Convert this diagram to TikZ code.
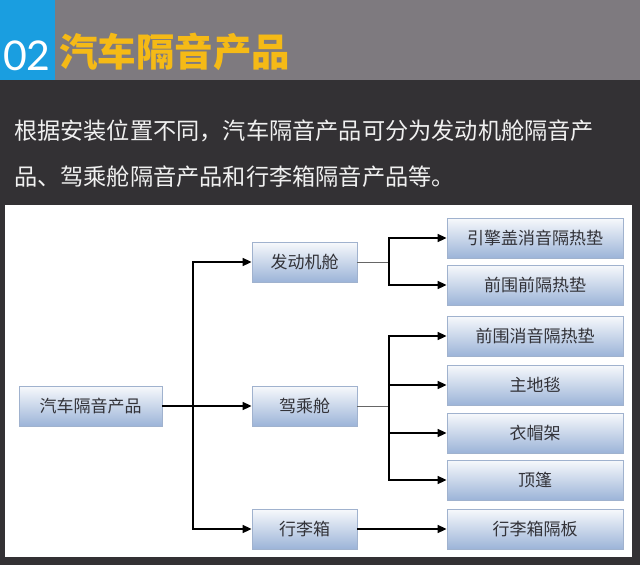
\documentclass[tikz,border=0pt]{standalone}
\usepackage{fontspec}
\setmainfont{Noto Sans CJK SC}
\newfontfamily\numfont{Lato}
\usetikzlibrary{arrows.meta}

\definecolor{headblue}{RGB}{26,158,224}
\definecolor{headgrey}{RGB}{126,122,127}
\definecolor{darkbg}{RGB}{51,49,52}
\definecolor{titleyellow}{RGB}{245,186,22}
\definecolor{boxblue}{RGB}{156,180,216}
\definecolor{boxline}{RGB}{160,178,206}
\definecolor{boxtext}{RGB}{50,50,56}

\tikzset{
  box/.style={draw=boxline, line width=0.8pt, shading=axis, shading angle=20,
    top color=white!92!boxblue, bottom color=boxblue,
    minimum height=40pt, inner sep=0pt, text=boxtext, font=\fontsize{17}{17}\selectfont},
  midbox/.style={box, minimum width=105pt},
  leafbox/.style={box, minimum width=176pt},
  arr/.style={line width=1.6pt, -{Triangle[length=9pt,width=8pt]}},
  link/.style={line width=1pt, draw=black!60}
}

\begin{document}
\begin{tikzpicture}[x=1pt,y=-1pt]
    \useasboundingbox (0,0) rectangle (640,565);
    % header
    \fill[darkbg] (0,80) rectangle (640,565);
    \fill[headgrey] (55,0) rectangle (640,80);
    \fill[headblue] (0,0) rectangle (55,80);
    \node[anchor=center, text=white, font=\numfont\fontsize{41}{41}\selectfont] (num) at (27,56) {02};
    \node[anchor=west, text=titleyellow, inner sep=0pt, font=\bfseries\fontsize{38.5}{38.5}\selectfont] (title) at (59,52) {汽车隔音产品};
    \node[anchor=west, text=white!94!black, inner sep=0pt, font=\fontsize{23.2}{23.2}\selectfont] (line1) at (14,131) {根据安装位置不同，汽车隔音产品可分为发动机舱隔音产};
    \node[anchor=west, text=white!94!black, inner sep=0pt, font=\fontsize{23.2}{23.2}\selectfont] (line2) at (14,177) {品、驾乘舱隔音产品和行李箱隔音产品等。};
    \fill[white] (5,205) rectangle (632,557);

    % boxes
    \node[box, minimum width=143pt] (root) at (90.5,406) {汽车隔音产品};
    \node[midbox] (engine) at (304.5,262) {发动机舱};
    \node[midbox] (cabin) at (304.5,406) {驾乘舱};
    \node[midbox] (trunk) at (304.5,529) {行李箱};

    \node[leafbox] (hood) at (535,238) {引擎盖消音隔热垫};
    \node[leafbox] (dash) at (535,285) {前围前隔热垫};
    \node[leafbox] (dashin) at (535,336) {前围消音隔热垫};
    \node[leafbox] (carpet) at (535,385) {主地毯};
    \node[leafbox] (shelf) at (535,433) {衣帽架};
    \node[leafbox] (roof) at (535,480) {顶篷};
    \node[leafbox] (board) at (535,529) {行李箱隔板};

    % connectors
    \coordinate (j0) at (193,406);
    \coordinate (j1) at (389,262);
    \coordinate (j2) at (389,406);

    \draw[line width=1.6pt] (root.east) -- (j0);
    \draw[arr] (j0) |- (engine.west);
    \draw[arr] (j0) -- (cabin.west);
    \draw[arr] (j0) |- (trunk.west);

    \draw[link] (engine.east) -- (j1);
    \draw[arr] (j1) |- (hood.west);
    \draw[arr] (j1) |- (dash.west);

    \draw[link] (cabin.east) -- (j2);
    \draw[arr] (j2) |- (dashin.west);
    \draw[arr] (j2) |- (carpet.west);
    \draw[arr] (j2) |- (shelf.west);
    \draw[arr] (j2) |- (roof.west);

    \draw[arr] (trunk.east) -- (board.west);
\end{tikzpicture}
\end{document}
